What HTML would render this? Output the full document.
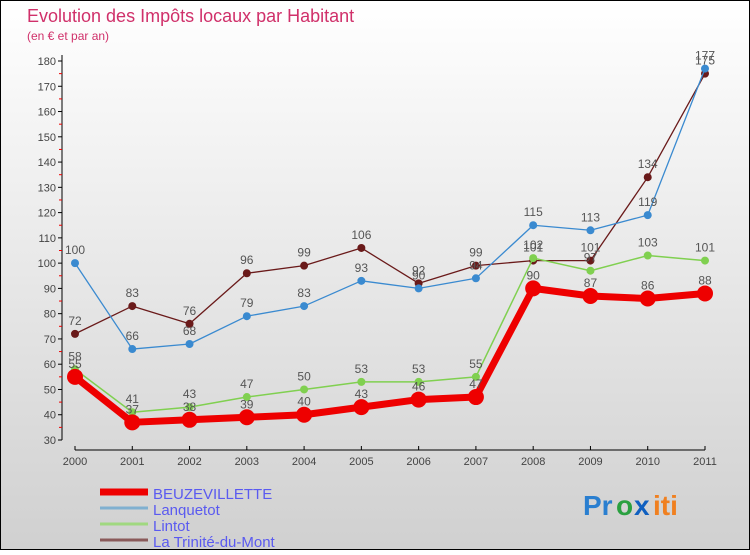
<!DOCTYPE html>
<html><head><meta charset="utf-8"><style>
body{margin:0;}
svg text{font-family:"Liberation Sans",sans-serif;}
</style></head><body>
<svg width="750" height="550" xmlns="http://www.w3.org/2000/svg">
<defs><linearGradient id="bg" x1="0" y1="0" x2="0" y2="1"><stop offset="0" stop-color="#ffffff"/><stop offset="1" stop-color="#d0d0d0"/></linearGradient></defs>
<rect x="0.5" y="0.5" width="749" height="549" fill="url(#bg)" stroke="#000"/>
<text x="27" y="22" font-size="18" fill="#d0306a">Evolution des Impôts locaux par Habitant</text>
<text x="27" y="40" font-size="12" fill="#d0306a">(en € et par an)</text>
<g id="axes"></g><g id="series"></g><g id="legend"></g>
<g font-size="28" font-weight="bold">
<text x="583" y="515" fill="#2a7fd0">Pr</text><text x="616" y="515" fill="#2aa040">o</text><text x="634" y="515" fill="#1060c0">x</text><text x="653" y="515" fill="#f08020">iti</text>
</g>
</svg>
<script>
const years=["2000","2001","2002","2003","2004","2005","2006","2007","2008","2009","2010","2011"];
const yTicks=[30,40,50,60,70,80,90,100,110,120,130,140,150,160,170,180];
const beuzevillette=[55,37,38,39,40,43,46,47,90,87,86,88];
const lanquetot=[100,66,68,79,83,93,90,94,115,113,119,177];
const lintot=[58,41,43,47,50,53,53,55,102,97,103,101];
const trinite=[72,83,76,96,99,106,92,99,101,101,134,175];
const NS="http://www.w3.org/2000/svg";
const X=i=>75+i*(630/11);
const Y=v=>440-(v-30)*(379/150);
function mk(p,t,a){const e=document.createElementNS(NS,t);for(const k in a)e.setAttribute(k,a[k]);p.appendChild(e);return e;}
const ax=document.getElementById('axes');
let l=mk(ax,'line',{x1:62,y1:55,x2:62,y2:440,stroke:'#000'});


l=mk(ax,'line',{x1:75,y1:450,x2:705,y2:450,stroke:'#000'});


yTicks.forEach(v=>{
  mk(ax,'line',{x1:58,y1:Y(v),x2:62,y2:Y(v),stroke:'#000'});
  if(v<180)mk(ax,'line',{x1:59,y1:Y(v+5),x2:62,y2:Y(v+5),stroke:'#e00'});
  const t=mk(ax,'text',{x:56,y:Y(v)+4,'font-size':11,fill:'#444','text-anchor':'end'});
  t.textContent=v;
  
  
});
years.forEach((y,i)=>{
  mk(ax,'line',{x1:X(i),y1:446,x2:X(i),y2:450,stroke:'#000'});
  const t=mk(ax,'text',{x:X(i),y:465,'font-size':11,fill:'#444','text-anchor':'middle'});
  t.textContent=y;
  
  
});
const series=[
 {n:'La Trinité-du-Mont',d:trinite,c:'#6a1a1a',w:1.3,r:4,key:'trinite'},
 {n:'Lanquetot',d:lanquetot,c:'#3a8ad0',w:1.3,r:4,key:'lanquetot'},
 {n:'Lintot',d:lintot,c:'#80d050',w:1.5,r:4,key:'lintot'},
 {n:'BEUZEVILLETTE',d:beuzevillette,c:'#ee0000',w:7,r:8,key:'beuzevillette'}
];
const sg=document.getElementById('series');
series.forEach(s=>{
  const g=mk(sg,'g',{});
  
  
  const pl=mk(g,'polyline',{points:s.d.map((v,i)=>X(i)+','+Y(v)).join(' '),fill:'none',stroke:s.c,'stroke-width':s.w,'stroke-linejoin':'round'});
  
  
  s.d.forEach((v,i)=>{
    const c=mk(g,'circle',{cx:X(i),cy:Y(v),r:s.r,fill:s.c});
    
    
    const t=mk(g,'text',{x:X(i),y:Y(v)-9,'font-size':12,fill:'#555','text-anchor':'middle'});
    t.textContent=v;
    
    
  });
});
const lg=document.getElementById('legend');
const leg=[series[3],series[1],series[2],series[0]];
const legColors=['#ee0000','#80b0d0','#a0d880','#8a5a5a'];
leg.forEach((s,i)=>{
  const y=492+i*16;
  const g=mk(lg,'g',{});
  
  
  mk(g,'line',{x1:100,y1:y,x2:148,y2:y,stroke:legColors[i],'stroke-width':i==0?7:3});
  const t=mk(g,'text',{x:153,y:y+7,'font-size':15,fill:'#5a5af0'});
  t.textContent=s.n;
});
</script>
</body></html>
